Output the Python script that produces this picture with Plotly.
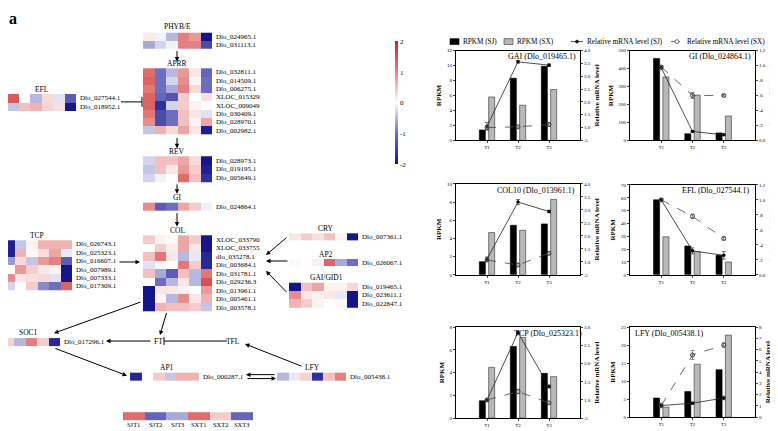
import plotly.graph_objects as go

FONT = "Liberation Serif"
# the page body keeps an 8px margin, so the figure is drawn 8px in from the corner
OFF = 8
W, H = 778 - OFF, 431 - OFF

# ---------------- panel a: expression z-scores (SJT1 SJT2 SJT3 SXT1 SXT2 SXT3)
samples = ["SJT1", "SJT2", "SJT3", "SXT1", "SXT2", "SXT3"]
sample_key = [1.2, -1.1, -0.6, 1.2, 0.4, -1.1]

phyb_genes = ["Dlo_024965.1", "Dlo_031113.1"]
phyb_z = [[0.15, -0.1, -0.5, 1.0, 0.8, -2.0],
          [-0.6, -0.3, -0.1, 1.0, 1.0, -1.4]]

aprr_genes = ["Dlo_032811.1", "Dlo_014509.1", "Dlo_006275.1", "XLOC_015329",
              "XLOC_009049", "Dlo_030409.1", "Dlo_028970.1", "Dlo_002982.1"]
aprr_z = [[1.2, -1.0, -0.5, 0.8, 0.2, -1.1],
          [1.3, -1.0, -0.3, 0.9, -0.05, -1.0],
          [1.1, -1.0, -0.6, 1.0, 0.3, -1.0],
          [1.3, -1.1, -1.3, 0.4, 0.0, 0.25],
          [1.3, -1.7, -0.3, 0.4, 0.1, 0.0],
          [1.1, -1.4, -1.0, 0.5, 0.2, -0.2],
          [0.9, -1.4, -1.0, 0.5, 0.1, 0.7],
          [-0.4, 0.6, 0.3, 0.7, 0.2, -1.9]]

efl_genes = ["Dlo_027544.1", "Dlo_018952.1"]
efl_z = [[1.4, 0.0, -0.5, 0.3, -0.2, -1.2],
         [-0.4, 0.5, 0.6, 0.35, 0.25, -2.0]]

rev_genes = ["Dlo_028973.1", "Dlo_019195.1", "Dlo_005649.1"]
rev_z = [[-0.3, 0.5, 0.5, 0.7, 0.3, -2.0],
         [-0.4, 0.5, 0.2, 0.8, 0.4, -1.9],
         [-0.3, -0.1, 0.0, 1.2, 0.5, -1.7]]

gi_genes = ["Dlo_024864.1"]
gi_z = [[0.9, -1.2, -1.0, 0.7, 0.4, -0.1]]

col_genes = ["XLOC_033790", "XLOC_033755", "dlo_035278.1", "Dlo_003684.1",
             "Dlo_031781.1", "Dlo_029236.3", "Dlo_013961.1", "Dlo_005461.1",
             "Dlo_003578.1"]
col_z = [[0.4, 0.1, 0.05, 0.7, 0.4, -2.0],
         [0.0, 0.4, 0.15, 0.7, 0.2, -2.0],
         [0.5, 1.1, 0.2, -0.5, -0.15, -1.8],
         [-0.2, -0.05, 0.0, 1.1, 0.4, -1.8],
         [0.5, -0.6, -1.2, 0.5, -0.5, 1.1],
         [0.0, -1.0, -0.5, 0.2, -0.5, 1.5],
         [-2.0, 0.2, 0.2, 0.1, 0.0, 0.8],
         [-2.0, 0.1, -0.5, 0.9, 0.2, 0.6],
         [-2.0, 0.6, 0.5, 0.5, 0.4, -0.4]]

tcp_genes = ["Dlo_026743.1", "Dlo_025323.1", "Dlo_016607.1", "Dlo_007989.1",
             "Dlo_007333.1", "Dlo_017309.1"]
tcp_z = [[-1.9, -0.4, 0.1, 0.6, 0.6, 0.6],
         [-1.9, 0.6, 0.05, 0.25, 0.7, -0.15],
         [-0.7, 0.3, -0.4, 0.8, 1.0, -1.2],
         [0.0, 0.8, 0.4, 0.2, 0.1, -2.0],
         [0.9, 0.2, 0.25, 0.3, -0.2, -2.0],
         [-0.3, 0.0, 0.4, -0.8, -1.0, 1.3]]

cry_genes = ["Dlo_007361.1"]
cry_z = [[0.2, 0.4, 0.25, 0.5, 0.1, -2.0]]

ap2_genes = ["Dlo_026067.1"]
ap2_z = [[0.05, 0.0, 0.1, 1.3, -0.6, -1.0]]

gai_genes = ["Dlo_019465.1", "Dlo_023611.1", "Dlo_022847.1"]
gai_z = [[-2.0, 0.5, 0.7, 0.1, 0.1, 0.3],
         [0.9, 0.2, 0.1, 0.2, -0.15, -2.0],
         [0.6, 0.4, 0.1, 0.0, 0.05, -2.0]]

soc1_genes = ["Dlo_017296.1"]
soc1_z = [[0.0, 0.35, -0.5, 1.0, 0.4, -1.8]]

ap1_genes = ["Dlo_000287.1"]
ap1_z = [[-1.8, 0.0, 0.4, -0.4, 0.6, 0.6]]

lfy_genes = ["Dlo_005438.1"]
lfy_z = [[-0.5, -0.15, 0.35, -1.7, 0.5, 1.0]]

# ---------------- panel b: RPKM and relative mRNA level
times = ["T1", "T2", "T3"]

gai_rpkm_sj = [1.4, 8.3, 9.9]
gai_rpkm_sx = [5.8, 4.7, 6.8]
gai_rel_sj = [1.05, 3.56, 3.43]
gai_rel_sx = [1.0, 1.03, 1.12]
gai_err_sj = [0.15, 0.05, 0.05]
gai_err_sx = [0.05, 0.04, 0.06]

gi_rpkm_sj = [456, 37, 42]
gi_rpkm_sx = [353, 252, 136]
gi_rel_sj = [0.97, 0.12, 0.075]
gi_rel_sx = [0.98, 0.6, 0.6]
gi_err_sj = [0.02, 0.01, 0.01]
gi_err_sx = [0.02, 0.04, 0.01]

col10_rpkm_sj = [1.45, 5.45, 5.6]
col10_rpkm_sx = [4.65, 4.9, 8.3]
col10_rel_sj = [1.11, 3.3, 2.94]
col10_rel_sx = [1.07, 0.88, 1.33]
col10_err_sj = [0.08, 0.1, 0.05]
col10_err_sx = [0.05, 0.05, 0.05]

efl_rpkm_sj = [58.4, 22.4, 15.2]
efl_rpkm_sx = [29.6, 18.0, 10.0]
efl_rel_sj = [1.0, 0.32, 0.26]
efl_rel_sx = [1.0, 0.78, 0.485]
efl_err_sj = [0.02, 0.04, 0.05]
efl_err_sx = [0.02, 0.03, 0.02]

tcp_rpkm_sj = [1.53, 6.3, 3.94]
tcp_rpkm_sx = [4.47, 7.1, 3.65]
tcp_rel_sj = [1.0, 2.85, 1.37]
tcp_rel_sx = [1.0, 1.23, 0.92]
tcp_err_sj = [0.03, 0.05, 0.04]
tcp_err_sx = [0.03, 0.06, 0.03]

lfy_rpkm_sj = [5.3, 7.1, 13.2]
lfy_rpkm_sx = [2.76, 14.7, 22.8]
lfy_rel_sj = [1.03, 1.24, 1.7]
lfy_rel_sx = [1.03, 5.53, 6.41]
lfy_err_sj = [0.1, 0.1, 0.15]
lfy_err_sx = [0.2, 0.4, 0.2]

rel_ticks_a = [".5", "1.0", "1.5", "2.0", "2.5", "3.0", "3.5", "4.0"]
rel_ticks_b = ["0.0", ".2", ".4", ".6", ".8", "1.0", "1.2"]
rel_ticks_c = [".5", "1.0", "1.5", "2.0", "2.5", "3.0"]
rel_ticks_d = ["0", "1", "2", "3", "4", "5", "6", "7", "8"]

colorscale = [[0.0, "#16168a"], [0.25, "#6e6ebf"], [0.5, "#ffffff"],
              [0.75, "#e58080"], [1.0, "#c92222"]]


def px(x):
    return (x - OFF) / W


def py(y):
    return 1 - (y - OFF) / H


fig = go.Figure()
annotations = []
shapes = []


def txt(x, y, s, size=7, anchor="left", ref=("x", "y"), bold=False):
    annotations.append(dict(x=x, y=y, xref=ref[0], yref=ref[1], text=f"<b>{s}</b>" if bold else s,
                            showarrow=False, xanchor=anchor, yanchor="middle",
                            font=dict(family=FONT, size=size, color="black")))


# heatmap blocks: (z, genes, title, left, top, cell width, row height, title x, title y)
blocks = [
    (phyb_z, phyb_genes, "PHYB/E", 143, 31, 11.5, 8, 177, 25),
    (aprr_z, aprr_genes, "APRR", 143, 67, 11.5, 8.4, 177, 62),
    (efl_z, efl_genes, "EFL", 7, 93, 11.5, 8.5, 42, 88),
    (rev_z, rev_genes, "REV", 143, 156, 11.5, 8.7, 177, 151),
    (gi_z, gi_genes, "GI", 143, 203, 11.5, 8, 177, 198),
    (col_z, col_genes, "COL", 143, 236, 11.5, 8.6, 177, 231),
    (tcp_z, tcp_genes, "TCP", 3, 241, 11.5, 8.5, 37, 236),
    (cry_z, cry_genes, "CRY", 289, 234, 11.5, 7.5, 326, 229),
    (ap2_z, ap2_genes, "AP2", 289, 260, 11.5, 7.5, 326, 255),
    (gai_z, gai_genes, "GAI/GID1", 289, 284, 11.5, 8.5, 326, 279),
    (soc1_z, soc1_genes, "SOC1", -9, 340, 11.5, 8, 28, 334),
    (ap1_z, ap1_genes, "AP1", 130, 375, 11.5, 8, 167, 370),
    (lfy_z, lfy_genes, "LFY", 277, 375, 11.5, 8, 312, 370),
]

for z, genes, title, left, top, cw, rh, tx, ty in blocks:
    fig.add_trace(go.Heatmap(z=z, x0=left + cw / 2, dx=cw, y0=top + rh / 2, dy=rh,
                             zmin=-2, zmax=2, colorscale=colorscale, showscale=False,
                             hoverinfo="skip", xaxis="x", yaxis="y"))
    for i, g in enumerate(genes):
        txt(left + 6 * cw + 1.5, top + rh * (i + 0.5), g)
    txt(tx, ty, title, size=7.5, anchor="center")

# sample key with colour bar
fig.add_trace(go.Heatmap(z=[sample_key], x0=123 + 21.7 / 2, dx=21.7, y0=419, dy=8,
                         zmin=-2, zmax=2, colorscale=colorscale, hoverinfo="skip",
                         xaxis="x", yaxis="y", showscale=True,
                         colorbar=dict(x=px(395), xanchor="left", y=py(102), yanchor="middle",
                                       len=124 / H, thickness=3, outlinewidth=0, xpad=0, ypad=0,
                                       tickvals=[-2, -1, 0, 1, 2], ticktext=["-2", "-1", "0", "1", "2"],
                                       ticks="", tickfont=dict(family=FONT, size=7))))
for i, s in enumerate(samples):
    txt(123 + 21.7 * (i + 0.5), 427, s, size=6.5, anchor="center")

txt(13, 17, "a", size=16, anchor="center", bold=True)
txt(392, 17, "b", size=17, anchor="center", bold=True)
txt(158, 343, "FT", size=7.5, anchor="center")
txt(233, 343, "TFL", size=7.5, anchor="center")

arrows = [((177, 48), (177, 60)), ((177, 136), (177, 148)), ((177, 183), (177, 194)),
          ((177, 212), (177, 227)), ((118, 263), (140, 263)), ((288, 237), (266, 256)),
          ((289, 262), (266, 262)), ((288, 295), (266, 272)), ((142, 303), (54, 335)),
          ((167, 313), (160, 337)), ((152, 343), (106, 343)), ((303, 369), (245, 346)),
          ((54, 350), (127, 378)), ((276, 377), (246, 377)), ((246, 381), (276, 381))]
for (ax, ay), (hx, hy) in arrows:
    annotations.append(dict(x=hx, y=hy, ax=ax, ay=ay, xref="x", yref="y", axref="x", ayref="y",
                            text="", showarrow=True, arrowhead=2, arrowsize=0.9,
                            arrowwidth=1, arrowcolor="black"))

for x0, y0, x1, y1 in [(121, 101, 142, 101), (142, 96, 142, 106),
                       (227, 343, 164, 343), (164, 339, 164, 347)]:
    shapes.append(dict(type="line", x0=x0, y0=y0, x1=x1, y1=y1, xref="x", yref="y",
                       line=dict(color="black", width=1)))

# ---------------- panel b subplots
panels = [
    ("GAI (Dlo_019465.1)", gai_rpkm_sj, gai_rpkm_sx, gai_rel_sj, gai_rel_sx, gai_err_sj, gai_err_sx,
     12, 2, [0.5, 4.0], rel_ticks_a),
    ("GI (Dlo_024864.1)", gi_rpkm_sj, gi_rpkm_sx, gi_rel_sj, gi_rel_sx, gi_err_sj, gi_err_sx,
     500, 100, [0.0, 1.2], rel_ticks_b),
    ("COL10 (Dlo_013961.1)", col10_rpkm_sj, col10_rpkm_sx, col10_rel_sj, col10_rel_sx,
     col10_err_sj, col10_err_sx, 10, 2, [0.5, 4.0], rel_ticks_a),
    ("EFL (Dlo_027544.1)", efl_rpkm_sj, efl_rpkm_sx, efl_rel_sj, efl_rel_sx, efl_err_sj, efl_err_sx,
     70, 10, [0.0, 1.2], rel_ticks_b),
    ("TCP (Dlo_025323.1)", tcp_rpkm_sj, tcp_rpkm_sx, tcp_rel_sj, tcp_rel_sx, tcp_err_sj, tcp_err_sx,
     8, 2, [0.5, 3.0], rel_ticks_c),
    ("LFY (Dlo_005438.1)", lfy_rpkm_sj, lfy_rpkm_sx, lfy_rel_sj, lfy_rel_sx, lfy_err_sj, lfy_err_sx,
     25, 5, [0, 8], rel_ticks_d),
]
# pixel boxes (left, right, top, bottom) and title placement
boxes = [(456, 580, 49, 140), (630, 755, 49, 140), (456, 580, 184, 276),
         (630, 755, 185, 276), (456, 580, 329, 421), (630, 755, 329, 420)]
title_pos = [(578, 55, "right"), (753, 55, "right"), (577, 191, "right"),
             (752, 191, "right"), (512, 335, "left"), (633, 335, "left")]

tickfont = dict(family=FONT, size=5, color="black")
layout_axes = {}
for i, (title, sj, sx, rsj, rsx, esj, esx, ymax, ystep, rrange, rticks) in enumerate(panels):
    xa, yp, ys = i + 2, 2 * i + 2, 2 * i + 3
    l, r, t, b = boxes[i]
    fig.add_trace(go.Bar(x=times, y=sj, xaxis=f"x{xa}", yaxis=f"y{yp}", marker_color="black",
                         marker_line=dict(color="black", width=0.6), offsetgroup="sj",
                         showlegend=False, hoverinfo="skip"))
    fig.add_trace(go.Bar(x=times, y=sx, xaxis=f"x{xa}", yaxis=f"y{yp}", marker_color="#b8b8b8",
                         marker_line=dict(color="#333333", width=0.6), offsetgroup="sx",
                         showlegend=False, hoverinfo="skip"))
    fig.add_trace(go.Scatter(x=times, y=rsj, xaxis=f"x{xa}", yaxis=f"y{ys}", mode="lines+markers",
                             line=dict(color="#222222", width=0.8),
                             marker=dict(symbol="circle", size=3.5, color="black"),
                             error_y=dict(type="data", array=esj, thickness=0.6, width=2,
                                          color="#222222"),
                             showlegend=False, hoverinfo="skip"))
    fig.add_trace(go.Scatter(x=times, y=rsx, xaxis=f"x{xa}", yaxis=f"y{ys}", mode="lines+markers",
                             line=dict(color="#444444", width=0.8, dash="dash"),
                             marker=dict(symbol="circle-open", size=4, color="#444444"),
                             error_y=dict(type="data", array=esx, thickness=0.6, width=2,
                                          color="#444444"),
                             showlegend=False, hoverinfo="skip"))
    rvals = [rrange[0] + k * (rrange[1] - rrange[0]) / (len(rticks) - 1) for k in range(len(rticks))]
    layout_axes[f"xaxis{xa}"] = dict(domain=[px(l), px(r)], anchor=f"y{yp}", type="category",
                                     categoryorder="array", categoryarray=times, range=[-1, 3],
                                     showline=True, linecolor="black", linewidth=0.8, mirror=True,
                                     ticks="outside", ticklen=2, tickwidth=0.6, tickfont=tickfont,
                                     showgrid=False, zeroline=False)
    layout_axes[f"yaxis{yp}"] = dict(domain=[py(b), py(t)], anchor=f"x{xa}", range=[0, ymax],
                                     dtick=ystep, tick0=0, showline=True, linecolor="black",
                                     linewidth=0.8, ticks="outside", ticklen=2, tickwidth=0.6,
                                     tickfont=tickfont, showgrid=False, zeroline=False,
                                     title=dict(text="<b>RPKM</b>", standoff=4,
                                                font=dict(family=FONT, size=7)))
    layout_axes[f"yaxis{ys}"] = dict(overlaying=f"y{yp}", side="right", anchor=f"x{xa}",
                                     range=rrange, tickvals=rvals, ticktext=rticks,
                                     showline=True, linecolor="black", linewidth=0.8,
                                     ticks="outside", ticklen=2, tickwidth=0.6, tickfont=tickfont,
                                     showgrid=False, zeroline=False,
                                     title=dict(text="<b>Relative mRNA level</b>", standoff=4,
                                                font=dict(family=FONT, size=7)))
    tx, ty, anc = title_pos[i]
    txt(px(tx), py(ty), title, size=8, anchor=anc, ref=("paper", "paper"))

# legend drawn along the top of panel b
shapes.append(dict(type="rect", xref="paper", yref="paper", x0=px(450), x1=px(459),
                   y0=py(43), y1=py(37), fillcolor="black", line=dict(color="black", width=0.6)))
txt(px(461), py(40), "RPKM (SJ)", size=7.2, ref=("paper", "paper"))
shapes.append(dict(type="rect", xref="paper", yref="paper", x0=px(504), x1=px(513),
                   y0=py(43), y1=py(37), fillcolor="#b8b8b8", line=dict(color="#333333", width=0.6)))
txt(px(515), py(40), "RPKM (SX)", size=7.2, ref=("paper", "paper"))
shapes.append(dict(type="line", xref="paper", yref="paper", x0=px(571), x1=px(583),
                   y0=py(40), y1=py(40), line=dict(color="#222222", width=0.8)))
shapes.append(dict(type="circle", xref="paper", yref="paper", x0=px(575.5), x1=px(578.5),
                   y0=py(41.5), y1=py(38.5), fillcolor="black", line=dict(color="black", width=0.6)))
txt(px(585), py(40), "Relative mRNA level (SJ)", size=7.2, ref=("paper", "paper"))
shapes.append(dict(type="line", xref="paper", yref="paper", x0=px(671), x1=px(683),
                   y0=py(40), y1=py(40), line=dict(color="#444444", width=0.8, dash="dash")))
shapes.append(dict(type="circle", xref="paper", yref="paper", x0=px(675), x1=px(679),
                   y0=py(42), y1=py(38), fillcolor="white", line=dict(color="#444444", width=0.7)))
txt(px(685), py(40), "Relative mRNA level (SX)", size=7.2, ref=("paper", "paper"))

fig.update_layout(
    width=W, height=H, margin=dict(l=0, r=0, t=0, b=0),
    paper_bgcolor="white", plot_bgcolor="rgba(0,0,0,0)",
    font=dict(family=FONT, color="black"),
    barmode="group", bargap=0.4, bargroupgap=0.35, showlegend=False,
    xaxis=dict(domain=[0, px(380)], range=[OFF, 380], visible=False, fixedrange=True),
    yaxis=dict(domain=[0, 1], range=[431, OFF], visible=False, fixedrange=True),
    annotations=annotations, shapes=shapes, **layout_axes,
)

fig.write_html("out.html")
